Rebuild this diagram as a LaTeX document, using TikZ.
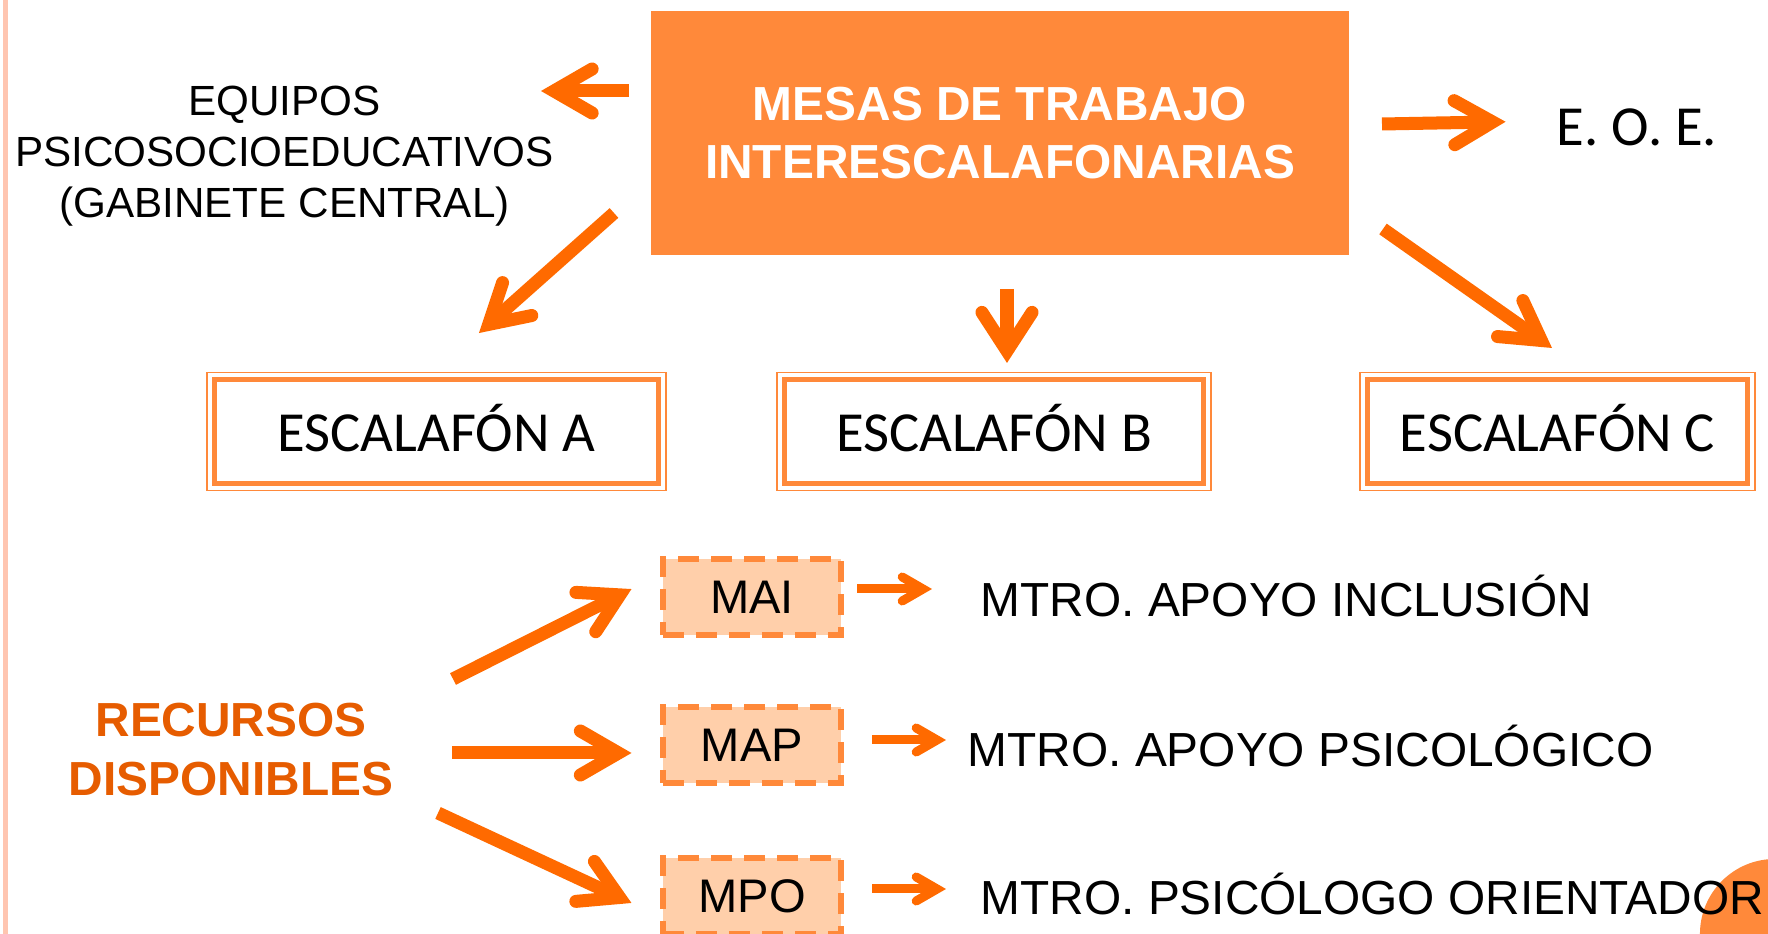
\documentclass[tikz,border=0pt]{standalone}
\usepackage{fontspec}
\setmainfont{Liberation Sans}
\newfontfamily\calib{Carlito}
\usetikzlibrary{calc}
\definecolor{boxor}{RGB}{255,137,58}
\definecolor{arror}{RGB}{255,106,0}
\definecolor{recor}{RGB}{230,92,0}
\definecolor{peach}{RGB}{255,207,170}
\definecolor{barpink}{RGB}{255,197,176}
% #1 tail, #2 vertex, #3 arm length, #4 half angle, #5 width
\newcommand{\orarrow}[5]{%
  \draw[arror, line width=#5, line cap=butt] (#1) -- (#2);
  \draw[arror, line width=#5, line cap=round, line join=miter]
    ($(#2)!#3!#4:(#1)$) -- (#2) -- ($(#2)!#3!-#4:(#1)$);
}
\tikzset{
  mainbox/.style={fill=boxor, minimum width=6.98cm, minimum height=2.44cm, inner sep=0pt,
    text=white, font=\bfseries\fontsize{13.6}{16.5}\selectfont, align=center},
  escbox/.style={draw=boxor, line width=0.055cm, minimum height=1.04cm, inner sep=0pt,
    font=\calib\fontsize{16.1}{19}\selectfont, text height=0.39cm, text depth=0cm},
  escouter/.style={draw=boxor, line width=0.014cm},
  dashbox/.style={draw=boxor, fill=peach, dash pattern=on 0.21cm off 0.12cm, line width=0.055cm,
    minimum width=1.78cm, minimum height=0.76cm, inner sep=0pt, text height=0.33cm, text depth=0cm,
    font=\fontsize{13.4}{16}\selectfont},
  mtro/.style={anchor=base west, inner sep=0pt, font=\fontsize{13.6}{16}\selectfont},
}
\begin{document}
\begin{tikzpicture}[x=0.01cm, y=-0.01cm]
\path[use as bounding box] (0,0) rectangle (1768,934);
\clip (0,0) rectangle (1768,934);
% left bar
\fill[barpink] (3,0) rectangle (8,934);
% corner circle
\fill[boxor] (1775,934) circle[radius=0.75cm];

% main box
\node[mainbox] (mesa) at (1000,133) {MESAS DE TRABAJO\\INTERESCALAFONARIAS};
\node[align=center, inner sep=0pt, font=\fontsize{12}{14.5}\selectfont] (equipos) at (284.5,156)
  {EQUIPOS\\PSICOSOCIOEDUCATIVOS\\(GABINETE CENTRAL)};
\node[anchor=base, inner sep=0pt, font=\calib\fontsize{16.1}{19}\selectfont] (eoe) at (1637,146) {E. O. E.};

% escalafon boxes
\node[escbox, minimum width=4.44cm] (escA) at (436.5,431.5) {ESCALAFÓN A};
\node[escbox, minimum width=4.19cm] (escB) at (994,431.5) {ESCALAFÓN B};
\node[escbox, minimum width=3.80cm] (escC) at (1557.5,431.5) {ESCALAFÓN C};
\foreach \b in {escA,escB,escC}{
  \draw[escouter] ($(\b.north west)+(-4.5,-4.5)$) rectangle ($(\b.south east)+(4.5,4.5)$);
}

% recursos
\node[align=center, inner sep=0pt, text=recor, font=\bfseries\fontsize{13.6}{16.8}\selectfont] (rec) at (231,750)
  {RECURSOS\\DISPONIBLES};
\node[dashbox] (mai) at (752,597) {MAI};
\node[dashbox] (map) at (752,745) {MAP};
\node[dashbox] (mpo) at (752,896) {MPO};
\node[mtro] (tmai) at (980,617) {MTRO. APOYO INCLUSIÓN};
\node[mtro] (tmap) at (967,767) {MTRO. APOYO PSICOLÓGICO};
\node[mtro] (tmpo) at (980,915) {MTRO. PSICÓLOGO ORIENTADOR};

% arrow coordinates
\coordinate (t1) at (629,91);   \coordinate (v1) at (554,91);
\coordinate (t2) at (614,213);  \coordinate (v2) at (488.7,324.4);
\coordinate (t3) at (1007,289); \coordinate (v3) at (1007,351);
\coordinate (t4) at (1382,124); \coordinate (v4) at (1492.6,122);
\coordinate (t5) at (1383,229); \coordinate (v5) at (1541.4,340.5);
\coordinate (t6) at (453,679);  \coordinate (v6) at (619.9,594.9);
\coordinate (t7) at (452,753);  \coordinate (v7) at (618.5,753);
\coordinate (t8) at (438,813);  \coordinate (v8) at (619.7,897.5);
\coordinate (t9) at (857,589);  \coordinate (v9) at (923,589);
\coordinate (t10) at (872,740); \coordinate (v10) at (937,740);
\coordinate (t11) at (872,889); \coordinate (v11) at (937,889);

\orarrow{t1}{v1}{0.44cm}{30}{0.13cm}
\orarrow{t2}{v2}{0.44cm}{30}{0.13cm}
\orarrow{t3}{v3}{0.46cm}{33}{0.13cm}
\orarrow{t4}{v4}{0.44cm}{30}{0.13cm}
\orarrow{t5}{v5}{0.44cm}{30}{0.13cm}
\orarrow{t6}{v6}{0.44cm}{30}{0.13cm}
\orarrow{t7}{v7}{0.44cm}{30}{0.13cm}
\orarrow{t8}{v8}{0.44cm}{30}{0.13cm}
\orarrow{t9}{v9}{0.24cm}{30}{0.09cm}
\orarrow{t10}{v10}{0.24cm}{30}{0.09cm}
\orarrow{t11}{v11}{0.24cm}{30}{0.09cm}
\end{tikzpicture}
\end{document}
